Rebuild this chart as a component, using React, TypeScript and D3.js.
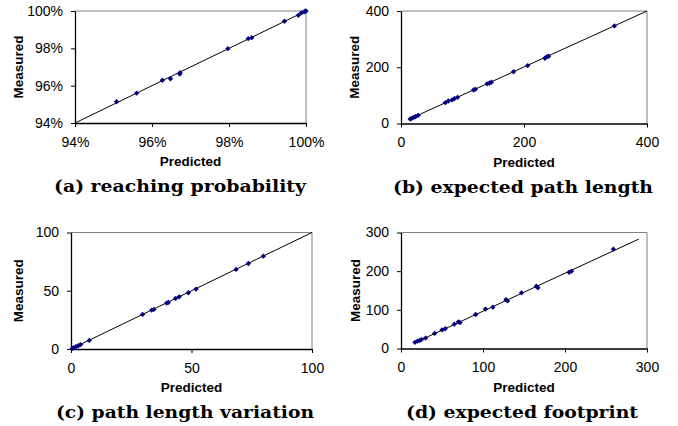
import React, { useEffect, useRef } from "react";
import * as d3 from "d3";

// (a) reaching probability (%)
const reachPredicted = [95.08, 95.6, 96.27, 96.48, 96.73, 96.72, 97.97, 98.5, 98.59, 99.44, 99.8, 99.88, 99.95, 99.98, 100];
const reachMeasured = [95.14, 95.6, 96.29, 96.37, 96.7, 96.62, 97.98, 98.52, 98.57, 99.45, 99.77, 99.9, 99.95, 99.99, 100];
const reachLine = [[94, 94], [100, 100]];

// (b) expected path length
const pathPredicted = [15, 18, 21, 24, 28, 72, 77, 83, 87, 92, 118, 121, 140, 144, 147, 183, 206, 234, 237, 240, 347];
const pathMeasured = [16, 19, 22, 25, 29, 74, 80, 84, 89, 93, 119, 122, 141, 144, 147, 184, 206, 232, 237, 239, 347];
const pathLine = [[12, 14], [400, 400]];

// (c) path length variation
const varPredicted = [0.5, 1, 2, 3, 4, 7.6, 29.7, 33.5, 34.4, 39.7, 40.4, 43.4, 44.9, 48.7, 51.9, 68.5, 73.6, 79.8];
const varMeasured = [0.5, 1, 2, 2.8, 3.8, 7.4, 29.7, 33.4, 34, 39.4, 40, 43.4, 44.8, 48.3, 51.4, 68.3, 73.4, 79.7];
const varLine = [[0, 0], [100, 100]];

// (d) expected footprint
const fpPredicted = [17, 20, 23, 25, 30, 41, 50, 54, 65, 70, 72, 91, 103, 112, 128, 130, 147, 165, 167, 205, 208, 259];
const fpMeasured = [16, 19, 21, 23, 27, 39, 48, 51, 63, 69, 67, 88, 102, 107, 126, 123, 144, 161, 157, 197, 200, 257];
const fpLine = [[17, 15], [290, 283]];

const reachTicks = [94, 96, 98, 100];
const pathTicks = [0, 200, 400];
const varTicks = [0, 50, 100];
const fpTicks = [0, 100, 200, 300];

const captions = [
  "(a) reaching probability",
  "(b) expected path length",
  "(c) path length variation",
  "(d) expected footprint",
];

const panels = [
  { px: reachPredicted, py: reachMeasured, line: reachLine, domain: [94, 100], ticks: reachTicks, pct: true,
    left: 75, right: 306, top: 11, bottom: 123, labelX: 18, capX: 180, capW: 252 },
  { px: pathPredicted, py: pathMeasured, line: pathLine, domain: [0, 400], ticks: pathTicks, pct: false,
    left: 401, right: 647, top: 11, bottom: 123.5, labelX: 354, capX: 523, capW: 260 },
  { px: varPredicted, py: varMeasured, line: varLine, domain: [0, 100], ticks: varTicks, pct: false,
    left: 71, right: 312, top: 232.5, bottom: 349, labelX: 18, capX: 185, capW: 258 },
  { px: fpPredicted, py: fpMeasured, line: fpLine, domain: [0, 300], ticks: fpTicks, pct: false,
    left: 401, right: 647, top: 232.5, bottom: 348.5, labelX: 355, capX: 522, capW: 232 },
];

const sans = "'Liberation Sans', Arial, sans-serif";

const App = () => {
  const svgRef = useRef<SVGSVGElement>(null);

  useEffect(() => {
    const svg = d3.select(svgRef.current);
    svg.selectAll("*").remove();

    panels.forEach((p, i) => {
      const x = d3.scaleLinear().domain(p.domain).range([p.left, p.right]);
      const y = d3.scaleLinear().domain(p.domain).range([p.bottom, p.top]);
      const fmt = (d: number) => (p.pct ? `${d}%` : `${d}`);
      const g = svg.append("g");

      // grey frame on top / right
      g.append("path")
        .attr("d", `M${p.left},${p.top}H${p.right}V${p.bottom}`)
        .attr("fill", "none")
        .attr("stroke", "#808080")
        .attr("stroke-width", 1);

      // axes
      const yAxis = g.append("g").attr("transform", `translate(${p.left},0)`)
        .call(d3.axisLeft(y).tickValues(p.ticks).tickSize(4).tickSizeOuter(0).tickPadding(8).tickFormat(fmt as any));
      const xAxis = g.append("g").attr("transform", `translate(0,${p.bottom})`)
        .call(d3.axisBottom(x).tickValues(p.ticks).tickSize(4).tickSizeOuter(0).tickPadding(10).tickFormat(fmt as any));
      [xAxis, yAxis].forEach(a => {
        a.select(".domain").attr("stroke", "#000").attr("stroke-width", 1.3);
        a.selectAll(".tick line").attr("stroke", "#000");
        a.selectAll(".tick text").attr("fill", "#000").style("font-family", sans).style("font-size", "14px");
      });

      // trend line
      g.append("line")
        .attr("x1", x(p.line[0][0])).attr("y1", y(p.line[0][1]))
        .attr("x2", x(p.line[1][0])).attr("y2", y(p.line[1][1]))
        .attr("stroke", "#000").attr("stroke-width", 1);

      // points
      const sym = d3.symbol().type(d3.symbolDiamond2).size(18);
      g.selectAll(".pt")
        .data(p.px.map((v, j) => [v, p.py[j]]))
        .enter()
        .append("path")
        .attr("d", sym as any)
        .attr("transform", d => `translate(${x(d[0])},${y(d[1])})`)
        .attr("fill", "#000080");

      // axis titles
      g.append("text")
        .attr("transform", `translate(${p.labelX},${(p.top + p.bottom) / 2}) rotate(-90)`)
        .attr("text-anchor", "middle")
        .attr("dy", "0.35em")
        .style("font-family", sans).style("font-weight", "bold").style("font-size", "13.5px")
        .text("Measured");
      g.append("text")
        .attr("x", (p.left + p.right) / 2)
        .attr("y", p.bottom + 43)
        .attr("text-anchor", "middle")
        .style("font-family", sans).style("font-weight", "bold").style("font-size", "13.5px")
        .text("Predicted");

      // caption
      g.append("text")
        .attr("x", p.capX - p.capW / 2)
        .attr("y", p.bottom + 69)
        .attr("textLength", p.capW)
        .attr("lengthAdjust", "spacingAndGlyphs")
        .style("font-family", "'DejaVu Serif', serif").style("font-weight", "bold").style("font-size", "17px")
        .text(captions[i]);
    });
  }, []);

  return (
    <svg ref={svgRef} width={678} height={426}
      style={{ position: "absolute", left: 0, top: 0, background: "#fff" }} />
  );
};

export default App;
